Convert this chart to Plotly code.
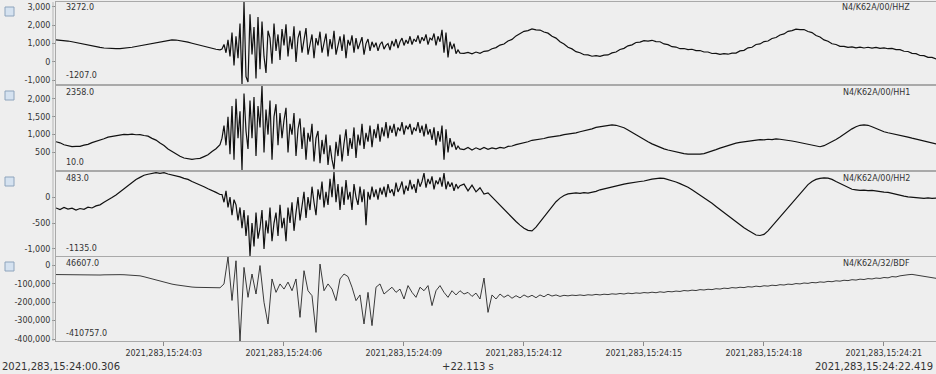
import numpy as np
import pandas as pd
import plotly.graph_objects as go
from plotly.subplots import make_subplots

# ---------------- data ----------------
START = "2021-10-10 15:24:00.306"   # 2021, day 283
START_LABEL = "2021,283,15:24:00.306"
END_LABEL = "2021,283,15:24:22.419"
SPAN_LABEL = "+22.113 s"

channels = ["N4/K62A/00/HHZ", "N4/K62A/00/HH1", "N4/K62A/00/HH2", "N4/K62A/32/BDF"]

x_tick_times = ["2021-10-10 15:24:03", "2021-10-10 15:24:06", "2021-10-10 15:24:09",
                "2021-10-10 15:24:12", "2021-10-10 15:24:15", "2021-10-10 15:24:18",
                "2021-10-10 15:24:21"]
x_tick_labels = ["2021,283,15:24:03", "2021,283,15:24:06", "2021,283,15:24:09",
                 "2021,283,15:24:12", "2021,283,15:24:15", "2021,283,15:24:18",
                 "2021,283,15:24:21"]

hhz_ticks = [-1000, 0, 1000, 2000, 3000]
hh1_ticks = [500, 1000, 1500, 2000]
hh2_ticks = [-1000, -500, 0]
bdf_ticks = [-400000, -300000, -200000, -100000, 0]

# each channel: segments of (offset from start in s, sample interval in ms, values)
hhz_pre = [1200, 1190, 1170, 1140, 1100, 1050, 1000, 950, 900, 860, 820, 790, 760, 740, 730, 725, 730, 745, 770,
           800, 840, 880, 930, 980, 1030, 1080, 1120, 1160, 1185, 1200, 1195, 1170, 1130, 1080, 1020, 960, 900, 840,
           780, 730, 690, 660]
hhz_event = [700, 950, 500, 1200, 300, 1600, -200, 1400, 200, 2100,
             -1207, 3272, -800, -1100, 2600, 400, 1900, -900, 2450, -400,
             2200, 300, -600, 1700, 1300, -100, 2100, 600, 1500, 100,
             1800, 900, 2050, 300, 1400, 700, 1950, 0, 1300, 1700,
             500, 1200, 1850, 400, 1000, 1500, 200, 1300, 900, 1650,
             500, 1100, 1550, 300, 1250, 700, 1700, 400, 1000, 1400,
             600, 1500, 200, 1200, 900, 1450, 500, 1300, 700, 1100,
             1350, 400, 1000, 1250, 600, 1100, 800, 1050, 600, 950,
             1100, 700, 900, 1000, 650, 1150, 850, 1250, 750, 1100,
             1300, 900, 1200, 1000, 1400, 950, 1250, 1100, 1450, 1000,
             1350, 1150, 1500, 950, 1300, 1200, 1550, 900, 1400, 1100,
             1750, 500, 1600, 250, 1100, 700, 1000, 450, 650, 480]
hhz_post = [470, 520, 440, 540, 470, 580, 600, 720, 780, 920, 980, 1140, 1230, 1420, 1530, 1670, 1710, 1800, 1750,
            1740, 1630, 1570, 1400, 1300, 1100, 980, 800, 710, 560, 500, 390, 380, 310, 340, 305, 370, 380, 490, 540,
            680, 740, 880, 930, 1060, 1080, 1160, 1140, 1180, 1110, 1100, 980, 940, 830, 810, 720, 730, 670, 690,
            620, 620, 540, 540, 460, 470, 410, 450, 420, 480, 480, 600, 630, 770, 800, 950, 980, 1110, 1140, 1280,
            1330, 1470, 1530, 1670, 1710, 1790, 1760, 1770, 1660, 1600, 1440, 1360, 1200, 1130, 990, 950, 850, 850,
            790, 820, 770, 810, 760, 800, 750, 790, 740, 770, 720, 740, 670, 670, 580, 570, 470, 450, 350, 340, 250,
            250, 170, 180, 130, 150]

hh1_pre = [800, 770, 715, 695, 665, 670, 670, 705, 725, 775, 805, 855, 885, 930, 950, 980, 985, 1005, 1000, 1010,
           995, 1000, 975, 955, 895, 845, 765, 695, 595, 525, 445, 395, 345, 330, 310, 325, 335, 385, 435, 525,
           605, 720]
hh1_event = [900, 1250, 700, 1500, 450, 1800, 300, 2000, 900, 1650,
             10, 2150, 1100, 600, 1950, 900, 2050, 400, 1800, 1200,
             2358, 500, 1700, 1000, 1950, 300, 1500, 1850, 700, 1600,
             900, 1400, 1750, 500, 1300, 1000, 1600, 400, 1150, 1450,
             600, 1200, 300, 1050, 800, 1300, 250, 900, 1100, 200,
             850, 450, 1000, 150, 700, 300, 30, 800, 400, 1000,
             250, 750, 1150, 400, 900, 600, 1200, 350, 1000, 700,
             1300, 600, 1050, 800, 1250, 650, 1150, 900, 1300, 800,
             1200, 950, 1350, 900, 1250, 1050, 1300, 950, 1200, 1100,
             1350, 1000, 1250, 1150, 1300, 1000, 1200, 1100, 1350, 1050,
             1250, 950, 1300, 1000, 1150, 850, 1200, 700, 1100, 800,
             1250, 300, 1150, 500, 900, 650, 800, 580, 680, 600]
hh1_post = [580, 640, 570, 630, 580, 640, 590, 630, 600, 640, 620, 670, 680, 720, 740, 780, 800, 840, 850, 880,
            890, 920, 930, 960, 970, 1000, 1010, 1040, 1050, 1080, 1100, 1140, 1160, 1200, 1220, 1250, 1260, 1270,
            1260, 1230, 1190, 1130, 1060, 990, 920, 860, 800, 740, 690, 640, 600, 570, 540, 510, 490, 470, 455, 450,
            445, 455, 470, 500, 540, 580, 620, 660, 700, 730, 760, 780, 800, 820, 840, 850, 860, 850, 870, 860, 880,
            870, 860, 840, 820, 800, 780, 760, 730, 700, 680, 660, 690, 740, 800, 860, 930, 1010, 1090, 1160, 1220,
            1260, 1270, 1260, 1220, 1170, 1120, 1080, 1050, 1030, 1010, 990, 960, 930, 900, 870, 840, 810, 780, 760,
            740, 720]

hh2_pre = [-210, -240, -200, -230, -215, -250, -220, -235, -195, -210, -170, -150, -100, -60, -10, 40, 100, 160,
           230, 280, 340, 380, 420, 440, 460, 470, 455, 470, 445, 430, 410, 390, 360, 340, 300, 270, 230, 200, 160,
           130, 90, 50]
hh2_event = [50, -100, 120, -200, 0, -350, -50, -150, -450, -200,
             -600, -250, -750, -350, -1135, -500, -950, -300, -800, -600,
             -250, -1000, -450, -700, -200, -850, -500, -300, -750, -150,
             -600, -400, -850, -200, -500, -100, -650, -300, 0, -450,
             -150, 100, -400, 0, -250, 200, -100, -350, 150, -50,
             300, -200, 100, -150, 350, 0, 483, -100, 250, -250,
             200, -150, 330, -50, 100, -250, 250, 0, -150, 200,
             -100, 150, -540, 100, -50, 200, 0, 150, -50, 180,
             50, 200, 0, 250, 80, 150, 20, 280, 100, 180,
             300, 50, 220, 120, 330, 150, 250, 80, 350, 200,
             300, 460, 180, 350, 250, 400, 150, 320, 250, 380,
             200, 460, 150, 300, 200, 280, 120, 250, 170, 220]
hh2_post = [250, 120, 230, 100, 180, 60, 80, 0, -60, -150, -230, -320, -400, -470, -540, -600, -640, -650, -580,
            -480, -380, -280, -180, -90, -20, 30, 60, 70, 80, 70, 85, 75, 90, 110, 140, 160, 180, 195, 210, 230,
            250, 265, 280, 290, 300, 310, 330, 345, 355, 365, 360, 340, 320, 290, 260, 230, 190, 140, 90, 40,
            -10, -60, -120, -180, -240, -300, -360, -420, -480, -540, -590, -640, -690, -730, -740, -720, -650, -560,
            -470, -380, -290, -200, -110, -20, 70, 160, 240, 300, 340, 360, 370, 365, 340, 300, 260, 220, 180, 150,
            140, 130, 135, 125, 130, 115, 110, 95, 90, 70, 60, 40, 20, 5, -5, -15, -20, -25, -15, -25, -20, -30]

bdf = [-49000, -49500, -50000, -50500, -51000, -52000, -53000, -53500, -53500, -53000, -52500, -51500, -50500, -49500,
       -49000, -49000, -49500, -50000, -50500, -51000,
       -52000, -56000, -61000, -67000, -73000, -79000, -85000, -91000, -96000, -101000, -105000, -109000, -112000,
       -115000, -117000, -118500, -119500, -120500, -121000, -121500, -122000, -121000,
       -100000, 46607, -190000, 26000, -410757, -10000, -173000, -46000, -155000, 0, -200000, -318000, -73000,
       -146000, -100000, -128000, -90000, -137000, -73000, -282000, -28000, -137000, -164000, -364000, 8000,
       -137000, -100000, -128000, -191000, -73000, -46000, -60000, -118000, -191000, -160000, -318000, -146000,
       -327000, -118000, -100000, -155000, -137000, -118000, -146000, -128000, -182000, -109000, -146000, -173000,
       -118000, -137000, -109000, -218000, -137000, -109000, -146000, -173000, -137000, -160000, -137000, -155000,
       -146000, -168000, -150000, -182000, -68000, -255000, -160000, -182000, -155000, -173000, -160000, -178000,
       -164000, -176000, -160000, -172000, -162000, -175000, -160000, -170000, -156000, -166000, -160000, -168000,
       -162000, -165000, -161000,
       -163000, -160000, -163000, -159000, -161000, -157000, -160000, -156000, -158000, -154000, -156000, -152000,
       -155000, -150000, -153000, -149000, -151000, -147000, -149000, -145000, -148000, -143000, -146000, -141000,
       -143000, -139000, -141000, -136000, -138000, -134000, -136000, -131000, -133000, -129000, -131000, -126000,
       -128000, -123000, -125000, -120000, -122000, -118000, -120000, -115000, -117000, -112000, -115000, -110000,
       -112000, -107000, -109000, -104000, -106000, -101000, -103000, -98000, -100000, -95000, -97000, -92000,
       -94000, -89000, -91000, -86000, -88000, -83000, -85000, -80000, -82000, -77000, -79000, -74000, -76000,
       -71000, -73000, -68000, -70000, -65000, -67000, -60000, -62000, -56000, -55000, -50000, -48000, -52000,
       -55000, -58000, -62000, -66000, -70000, -73000]

channel_segments = [
    [(0.0, 100, hhz_pre), (4.15, 50, hhz_event), (10.2, 100, hhz_post)],
    [(0.0, 100, hh1_pre), (4.15, 50, hh1_event), (10.2, 100, hh1_post)],
    [(0.0, 100, hh2_pre), (4.15, 50, hh2_event), (10.2, 100, hh2_post)],
    [(0.0, 100, bdf)],
]
tick_sets = [hhz_ticks, hh1_ticks, hh2_ticks, bdf_ticks]

# ---------------- layout constants ----------------
W, H = 936, 374
ML, MT, MB = 56, 2, 33
PX_PER_S = 40.0
BOTTOM = H - MB
PLOT_H = BOTTOM - MT
panel_px = [(2, 84), (86, 170), (172, 256), (257, 341)]

BG = "#EEEEEE"
BORDER = "#A9A9A9"
TXT = "#333333"
FONT = "DejaVu Sans"


def py2paper(py):
    return (BOTTOM - py) / PLOT_H


def px2paper(px):
    return (px - ML) / (W - ML)


t0 = pd.Timestamp(START)
t_end = t0 + pd.Timedelta(seconds=(W - ML) / PX_PER_S)

fig = make_subplots(rows=4, cols=1, shared_xaxes=True, vertical_spacing=0.0)

for k, segs in enumerate(channel_segments):
    times_parts, vals = [], []
    for off, dt_ms, v in segs:
        times_parts.append(t0 + pd.Timedelta(seconds=off)
                           + pd.to_timedelta(np.arange(len(v)) * dt_ms, unit="ms"))
        vals.extend(v)
    times = times_parts[0].append(times_parts[1:]) if len(times_parts) > 1 else times_parts[0]
    color = "#111111" if k < 3 else "#262626"
    width = 1.2 if k < 3 else 0.9
    fig.add_trace(go.Scatter(x=times, y=vals, mode="lines",
                             line=dict(color=color, width=width),
                             hoverinfo="skip", showlegend=False),
                  row=k + 1, col=1)

    top, bot = panel_px[k]
    vmin, vmax = min(vals), max(vals)
    yname = "yaxis" if k == 0 else f"yaxis{k + 1}"
    xname = "xaxis" if k == 0 else f"xaxis{k + 1}"
    fig.layout[yname].update(
        domain=[py2paper(bot), py2paper(top)],
        range=[vmin, vmax],
        tickvals=tick_sets[k],
        ticktext=[f"{v:,}" for v in tick_sets[k]],
        ticks="outside", ticklen=3, tickcolor="#8A8A8A", tickwidth=1,
        tickfont=dict(family=FONT, size=8, color=TXT),
        showgrid=False, zeroline=False,
        showline=True, linecolor=BORDER, linewidth=1, mirror=False,
        fixedrange=True,
    )
    xcfg = dict(range=[t0, t_end], showgrid=False, zeroline=False,
                showline=True, linecolor=BORDER, linewidth=1, mirror=True,
                fixedrange=True)
    if k < 3:
        xcfg.update(showticklabels=False, ticks="")
    else:
        xcfg.update(tickvals=x_tick_times, ticktext=x_tick_labels,
                    ticks="outside", ticklen=4, tickcolor="#8A8A8A",
                    tickfont=dict(family=FONT, size=8, color=TXT))
    fig.layout[xname].update(**xcfg)

    yref = "y domain" if k == 0 else f"y{k + 1} domain"
    ph = bot - top
    fig.add_annotation(xref="paper", yref=yref, x=px2paper(64), y=1 - 6 / ph,
                       text=f"{vmax:.1f}", showarrow=False, xanchor="left", yanchor="middle",
                       font=dict(family=FONT, size=8, color=TXT))
    fig.add_annotation(xref="paper", yref=yref, x=px2paper(64), y=8 / ph,
                       text=f"{vmin:.1f}", showarrow=False, xanchor="left", yanchor="middle",
                       font=dict(family=FONT, size=8, color=TXT))
    fig.add_annotation(xref="paper", yref=yref, x=px2paper(912), y=1 - 6 / ph,
                       text=channels[k], showarrow=False, xanchor="right", yanchor="middle",
                       font=dict(family=FONT, size=8, color=TXT))
    fig.add_shape(type="rect", xref="paper", yref="paper",
                  x0=px2paper(5), x1=px2paper(14),
                  y0=py2paper(top + 14), y1=py2paper(top + 5),
                  fillcolor="#D5E2F0", line=dict(color="#8EA4BC", width=1))

fig.add_shape(type="line", xref="paper", yref="paper",
              x0=px2paper(53), x1=px2paper(53), y0=0, y1=1,
              line=dict(color="#B5B5B5", width=1))

yb = py2paper(366)
fig.add_annotation(xref="paper", yref="paper", x=px2paper(0), y=yb, text=START_LABEL,
                   showarrow=False, xanchor="left", yanchor="middle",
                   font=dict(family=FONT, size=10, color=TXT))
fig.add_annotation(xref="paper", yref="paper", x=px2paper(468), y=yb, text=SPAN_LABEL,
                   showarrow=False, xanchor="center", yanchor="middle",
                   font=dict(family=FONT, size=10, color=TXT))
fig.add_annotation(xref="paper", yref="paper", x=px2paper(935), y=yb, text=END_LABEL,
                   showarrow=False, xanchor="right", yanchor="middle",
                   font=dict(family=FONT, size=10, color=TXT))

fig.update_layout(
    width=W, height=H,
    margin=dict(l=ML, r=0, t=MT, b=MB, pad=0),
    paper_bgcolor=BG, plot_bgcolor=BG,
    showlegend=False,
    font=dict(family=FONT, size=8, color=TXT),
)

fig.write_html("out.html", config={"displayModeBar": False, "staticPlot": True},
               post_script="document.body.style.margin='0';document.body.style.padding='0';"
                           "document.body.style.background='#EEEEEE';")
